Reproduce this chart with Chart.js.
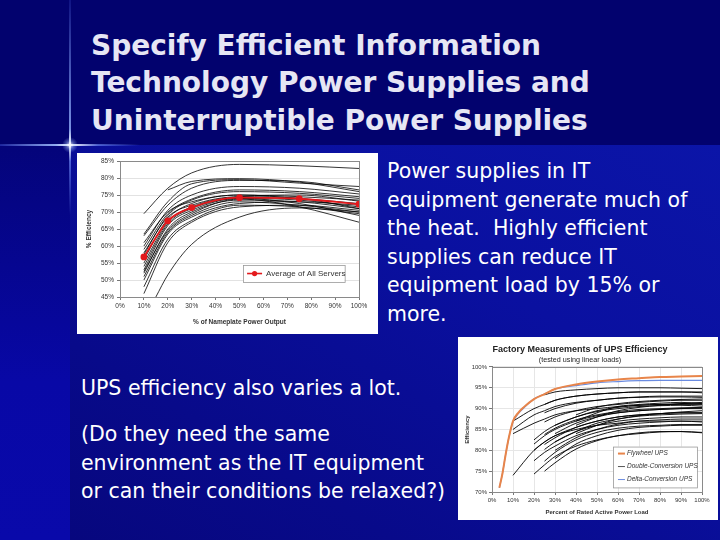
<!DOCTYPE html>
<html>
<head>
<meta charset="utf-8">
<title>Efficient Power Supplies</title>
<script src="https://cdn.jsdelivr.net/npm/chart.js@4"></script>
<style>
    body { margin: 0; width: 720px; height: 540px; overflow: hidden; background: #02026c; font-family: "DejaVu Sans", Verdana, sans-serif; }
    .abs { position: absolute; }
    .topBand { left: 0; top: 0; width: 720px; height: 145px; background: #02026e; }
    .lowerBand { left: 70px; top: 145px; width: 650px; height: 395px;
        background: linear-gradient(to bottom left, #0b15a8 0%, #0a10a0 35%, #080a8a 75%, #07077e 100%); }
    .leftStrip { left: 0; top: 145px; width: 70px; height: 395px;
        background: linear-gradient(to bottom, #04047a 0%, #0808a6 60%, #0909aa 100%); }
    .glowV { left: 69px; top: 0; width: 2px; height: 215px;
        background: linear-gradient(to bottom, rgba(90,120,255,0.15) 0%, rgba(150,180,255,0.8) 60%, #ffffff 67%, rgba(120,150,255,0.6) 75%, rgba(90,120,255,0) 100%); }
    .glowH { left: 0; top: 144px; width: 140px; height: 2px;
        background: linear-gradient(to right, rgba(90,120,255,0.3) 0%, rgba(160,190,255,0.9) 40%, #ffffff 50%, rgba(120,150,255,0.6) 70%, rgba(90,120,255,0) 100%); }
    .flare { left: 62px; top: 137px; width: 16px; height: 16px; border-radius: 50%;
        background: radial-gradient(circle, rgba(255,255,255,0.9) 0%, rgba(170,200,255,0.4) 35%, rgba(100,130,255,0) 70%); }
    h1 { position: absolute; left: 91px; top: 26.5px; margin: 0; font-size: 28px; line-height: 37.5px; font-weight: bold; color: #e6e6f4; }
    .body { color: #ffffff; font-size: 20.5px; line-height: 28.5px; margin: 0; }
    #p1 { left: 387px; top: 157px; }
    #p2 { left: 81px; top: 374px; }
    #p3 { left: 81px; top: 420px; }
    .chartBox { background: #ffffff; }
    #box1 { left: 77px; top: 153px; width: 301px; height: 181px; }
    #box2 { left: 458px; top: 337px; width: 260px; height: 183px; }
</style>
</head>
<body>
<div class="abs topBand"></div>
<div class="abs lowerBand"></div>
<div class="abs leftStrip"></div>
<div class="abs glowV"></div>
<div class="abs glowH"></div>
<div class="abs flare"></div>

<h1>Specify Efficient Information<br>Technology Power Supplies and<br>Uninterruptible Power Supplies</h1>

<p class="abs body" id="p1">Power supplies in IT<br>equipment generate much of<br>the heat.&nbsp; Highly efficient<br>supplies can reduce IT<br>equipment load by 15% or<br>more.</p>
<p class="abs body" id="p2">UPS efficiency also varies a lot.</p>
<p class="abs body" id="p3">(Do they need the same<br>environment as the IT equipment<br>or can their conditions be relaxed?)</p>

<div class="abs chartBox" id="box1"><canvas id="serverChart" width="301" height="181"></canvas></div>
<div class="abs chartBox" id="box2"><canvas id="upsChart" width="260" height="183"></canvas></div>

<script>
/* ================= DATA: SERVER POWER SUPPLIES ================= */
const serverLoads = [10, 15, 20, 30, 50, 75, 100];
const serverAverage = [56.8, null, 67.4, 71.3, 74.2, 73.9, 72.3];
const serverCurves = [
    [69.5, null, 77.0, 81.5, 84.0, 83.6, 82.8],
    [63.5, null, 73.0, 78.3, 79.5, 78.5, 77.5],
    [63.0, null, 72.0, 77.0, 79.3, 79.0, 76.5],
    [60.0, null, 70.5, 75.0, 77.5, 77.0, 75.3],
    [57.5, null, 69.0, 73.5, 76.0, 75.5, 74.0],
    [56.0, null, 68.0, 72.5, 75.0, 74.0, 72.5],
    [55.0, null, 67.0, 71.5, 74.5, 75.0, 73.2],
    [53.0, null, 66.0, 70.5, 74.0, 73.5, 71.5],
    [52.0, null, 65.0, 70.0, 73.5, 73.0, 71.0],
    [51.0, null, 64.0, 69.0, 73.0, 72.0, 70.0],
    [50.0, null, 63.5, 68.5, 72.5, 73.0, 72.0],
    [48.0, null, 62.0, 67.5, 72.0, 71.5, 69.5],
    [46.0, null, 61.0, 67.0, 71.5, 72.0, 70.5],
    [58.0, null, 68.5, 72.0, 74.5, 74.0, 71.0],
    [61.0, null, 70.0, 73.0, 75.0, 74.5, 73.5],
    [54.0, null, 66.5, 71.0, 74.0, 72.5, 69.0],
    [null, 45.0, 51.5, 60.5, 68.5, 71.2, 70.0],
    [null, null, 76.5, 79.0, 79.8, 78.8, 76.0],
    [59.0, null, 69.5, 73.8, 76.5, 76.0, 74.5],
    [52.5, null, 64.5, 69.5, 73.8, 71.5, 67.0]
];

/* ================= DATA: UPS ================= */
const upsLoads = [10, 20, 25, 30, 40, 50, 60, 70, 80, 90, 100];
const doubleConversion = [
    [87.0, 90.0, 91.0, 92.0, 93.0, 93.5, 93.8, 94.0, 94.0, 94.0, 94.0],
    [85.0, 88.5, 89.5, 90.5, 91.5, 92.0, 92.5, 92.7, 92.8, 92.8, 92.7],
    [84.0, 86.5, 87.5, 88.5, 89.5, 90.0, 90.5, 90.8, 91.0, 91.0, 91.0],
    [74.0, 80.0, 82.0, 83.5, 85.0, 86.0, 86.5, 87.0, 87.0, 87.0, 86.8],
    [null, 82.5, 84.5, 86.0, 88.0, 89.5, 90.3, 90.8, 91.0, 91.2, 91.3],
    [null, 81.5, 83.5, 85.0, 87.0, 88.3, 89.0, 89.5, 89.8, 90.0, 90.0],
    [null, 80.0, 82.0, 83.5, 85.5, 87.0, 88.0, 88.5, 88.8, 89.0, 89.0],
    [null, 77.5, 79.5, 81.0, 83.5, 85.0, 86.0, 86.5, 86.8, 87.0, 87.0],
    [null, 74.3, 76.5, 78.5, 81.0, 82.5, 83.5, 84.0, 84.4, 84.5, 84.2],
    [null, null, 93.3, 94.0, 94.5, 94.8, 95.0, 95.0, 95.0, 94.9, 94.8],
    [null, null, 91.0, 92.0, 93.0, 93.5, 93.8, 94.0, 94.0, 94.0, 93.8],
    [null, null, 89.0, 90.0, 91.3, 92.0, 92.5, 92.8, 93.0, 93.0, 93.0],
    [null, null, 86.8, 88.0, 89.5, 90.5, 91.0, 91.5, 91.8, 92.0, 92.0],
    [null, null, 83.8, 85.3, 87.3, 88.5, 89.3, 89.8, 90.0, 90.2, 90.3],
    [null, null, 81.4, 83.0, 85.5, 87.0, 88.0, 88.5, 88.8, 89.0, 89.0],
    [null, null, 80.2, 82.0, 84.5, 86.0, 87.0, 87.5, 87.8, 88.0, 88.0],
    [null, null, 77.4, 79.5, 82.5, 84.3, 85.3, 85.8, 86.0, 86.2, 86.2],
    [null, null, 75.0, 77.0, 80.3, 82.3, 83.5, 84.2, 84.5, 84.5, 84.3],
    [null, null, null, 84.0, 86.5, 88.0, 89.0, 89.5, 89.8, 90.0, 90.2],
    [null, null, null, 82.0, 84.5, 86.5, 87.5, 88.2, 88.5, 88.7, 88.8],
    [null, null, null, 80.0, 83.0, 85.0, 86.3, 87.0, 87.3, 87.5, 87.5],
    [null, null, null, 78.0, 81.5, 83.5, 84.8, 85.5, 85.8, 86.0, 86.0],
    [null, null, null, null, 88.5, 90.3, 91.2, 91.7, 92.0, 92.2, 92.3],
    [null, null, null, null, 86.0, 88.0, 89.5, 90.3, 90.8, 91.2, 91.5],
    [null, null, null, null, 84.0, 86.0, 87.5, 88.3, 88.8, 89.2, 89.5],
    [null, null, null, null, 87.0, 89.0, 90.5, 91.0, 91.3, 91.5, 91.2],
    [null, null, null, 86.0, 88.0, 89.3, 90.0, 90.5, 90.7, 90.8, 90.6]
];
const rotaryLoads = [3.5, 5, 6.5, 8, 10, 12.5, 15, 20, 25, 30, 40, 50, 60, 70, 80, 90, 100];
const flywheelUps = [71.0, 74.5, 79.0, 83.0, 87.0, 89.0, 90.3, 92.3, 93.5, 94.7, 95.8, 96.5, 97.0, 97.3, 97.6, 97.7, 97.8];
const deltaConversionUps = [71.0, 74.5, 79.0, 83.0, 86.8, 88.8, 90.1, 92.3, 93.5, 94.7, 95.5, 96.2, 96.5, 96.7, 96.8, 96.8, 96.8];

Chart.defaults.font.family = "'Liberation Sans', Arial, sans-serif";
Chart.defaults.color = "#333";

function toPoints(xs, ys) {
    return xs.map((x, i) => ({ x: x, y: ys[i] }));
}

const pct = v => v + "%";

/* frame round the plot area */
const plotFrame = {
    id: "plotFrame",
    afterDraw(chart) {
        const a = chart.chartArea;
        const ctx = chart.ctx;
        ctx.save();
        ctx.strokeStyle = "#8a8a8a";
        ctx.lineWidth = 1;
        ctx.strokeRect(Math.round(a.left) + 0.5, Math.round(a.top) + 0.5,
            Math.round(a.right - a.left), Math.round(a.bottom - a.top));
        ctx.restore();
    }
};

/* legend box drawn inside the plot, placed in data units */
function boxLegend(box, items, fontSpec, rowGap) {
    return {
        id: "boxLegend",
        afterDraw(chart) {
            const ctx = chart.ctx;
            const xs = chart.scales.x, ys = chart.scales.y;
            const left = xs.getPixelForValue(box.x0), right = xs.getPixelForValue(box.x1);
            const top = ys.getPixelForValue(box.y0), bottom = ys.getPixelForValue(box.y1);
            ctx.save();
            ctx.fillStyle = "#ffffff";
            ctx.fillRect(left, top, right - left, bottom - top);
            ctx.strokeStyle = "#9a9a9a";
            ctx.lineWidth = 0.8;
            ctx.strokeRect(left + 0.5, top + 0.5, right - left, bottom - top);
            ctx.font = fontSpec;
            ctx.textBaseline = "middle";
            items.forEach((item, i) => {
                const yy = top + box.firstRow + i * rowGap;
                ctx.strokeStyle = item.color;
                ctx.lineWidth = item.width;
                ctx.beginPath();
                ctx.moveTo(left + box.lineFrom, yy);
                ctx.lineTo(left + box.lineTo, yy);
                ctx.stroke();
                if (item.dot) {
                    ctx.fillStyle = item.color;
                    ctx.beginPath();
                    ctx.arc(left + (box.lineFrom + box.lineTo) / 2, yy, item.dot, 0, Math.PI * 2);
                    ctx.fill();
                }
                ctx.fillStyle = "#333";
                ctx.fillText(item.label, left + box.textAt, yy);
            });
            ctx.restore();
        }
    };
}

/* ================= SERVER CHART ================= */
const serverSets = [{
    label: "Average of All Servers",
    data: toPoints(serverLoads, serverAverage),
    borderColor: "#e3191c",
    backgroundColor: "#e3191c",
    borderWidth: 1.8,
    pointRadius: 3.4,
    pointBorderWidth: 0
}];
serverCurves.forEach((curve, i) => {
    serverSets.push({
        label: "Server " + (i + 1),
        data: toPoints(serverLoads, curve),
        borderColor: "#000000",
        borderWidth: 0.8,
        pointRadius: 0
    });
});

new Chart(document.getElementById("serverChart"), {
    type: "line",
    data: { datasets: serverSets },
    options: {
        responsive: false,
        animation: false,
        spanGaps: true,
        datasets: { line: { cubicInterpolationMode: "monotone" } },
        layout: { padding: { top: 8, right: 19, left: 0, bottom: 0 } },
        plugins: { legend: { display: false }, tooltip: { enabled: false } },
        scales: {
            x: {
                type: "linear", min: 0, max: 100,
                afterFit: s => { s.height = 37; },
                grid: { drawOnChartArea: false, tickLength: 3, color: "#777" },
                border: { color: "#777" },
                ticks: { stepSize: 10, callback: pct, font: { size: 6.5 }, padding: 2, maxRotation: 0 },
                title: { display: true, text: "% of Nameplate Power Output", font: { size: 6.5, weight: "bold" }, padding: { top: 0, bottom: 8 } }
            },
            y: {
                min: 45, max: 85,
                afterFit: s => { s.width = 43; },
                grid: { color: "#e2e2e2", tickLength: 3, tickColor: "#777" },
                border: { color: "#777" },
                ticks: { stepSize: 5, callback: pct, font: { size: 6.5 }, padding: 3 },
                title: { display: true, text: "% Efficiency", font: { size: 6.5, weight: "bold" }, padding: { top: 8, bottom: 0 } }
            }
        }
    },
    plugins: [plotFrame, boxLegend(
        { x0: 51.5, x1: 94, y0: 54.4, y1: 49.4, firstRow: 8.5, lineFrom: 4, lineTo: 19, textAt: 23 },
        [{ label: "Average of All Servers", color: "#e3191c", width: 1.6, dot: 2.6 }],
        "8px 'Liberation Sans', Arial, sans-serif", 0)]
});

/* ================= UPS CHART ================= */
const upsSets = [{
    label: "Flywheel UPS",
    data: toPoints(rotaryLoads, flywheelUps),
    borderColor: "#e8854a",
    borderWidth: 2,
    pointRadius: 0
}, {
    label: "Delta-Conversion UPS",
    data: toPoints(rotaryLoads, deltaConversionUps),
    borderColor: "#6a8be0",
    borderWidth: 1.2,
    pointRadius: 0
}];
doubleConversion.forEach((curve, i) => {
    upsSets.push({
        label: "Double-Conversion " + (i + 1),
        data: toPoints(upsLoads, curve),
        borderColor: "#000000",
        borderWidth: 0.9,
        pointRadius: 0
    });
});

new Chart(document.getElementById("upsChart"), {
    type: "line",
    data: { datasets: upsSets },
    options: {
        responsive: false,
        animation: false,
        spanGaps: true,
        datasets: { line: { cubicInterpolationMode: "monotone" } },
        layout: { padding: { top: 0, right: 16, left: 0, bottom: 0 } },
        plugins: {
            legend: { display: false },
            tooltip: { enabled: false },
            title: { display: true, text: "Factory Measurements of UPS Efficiency", color: "#222",
                font: { size: 9, weight: "bold" }, padding: { top: 7, bottom: 1 } },
            subtitle: { display: true, text: "(tested using linear loads)", color: "#222",
                font: { size: 7.2 }, padding: { top: 0, bottom: 2.5 } }
        },
        scales: {
            x: {
                type: "linear", min: 0, max: 100,
                afterFit: s => { s.height = 28; },
                grid: { color: "#e6e6e6", tickLength: 3, tickColor: "#777" },
                border: { color: "#777" },
                ticks: { stepSize: 10, callback: pct, font: { size: 6 }, padding: 2, maxRotation: 0 },
                title: { display: true, text: "Percent of Rated Active Power Load", font: { size: 6, weight: "bold" }, padding: { top: 0, bottom: 4 } }
            },
            y: {
                min: 70, max: 100,
                afterFit: s => { s.width = 34; },
                grid: { color: "#e6e6e6", tickLength: 3, tickColor: "#777" },
                border: { color: "#777" },
                ticks: { stepSize: 5, callback: pct, font: { size: 6 }, padding: 2 },
                title: { display: true, text: "Efficiency", font: { size: 6, weight: "bold" }, padding: { top: 6, bottom: 0 } }
            }
        }
    },
    plugins: [plotFrame, boxLegend(
        { x0: 57.6, x1: 97.6, y0: 80.9, y1: 71.1, firstRow: 7, lineFrom: 5, lineTo: 12, textAt: 14 },
        [
            { label: "Flywheel UPS", color: "#e8854a", width: 2 },
            { label: "Double-Conversion UPS", color: "#555", width: 1 },
            { label: "Delta-Conversion UPS", color: "#6a8be0", width: 1 }
        ],
        "italic 6.5px 'Liberation Sans', Arial, sans-serif", 13)]
});
</script>
</body>
</html>
